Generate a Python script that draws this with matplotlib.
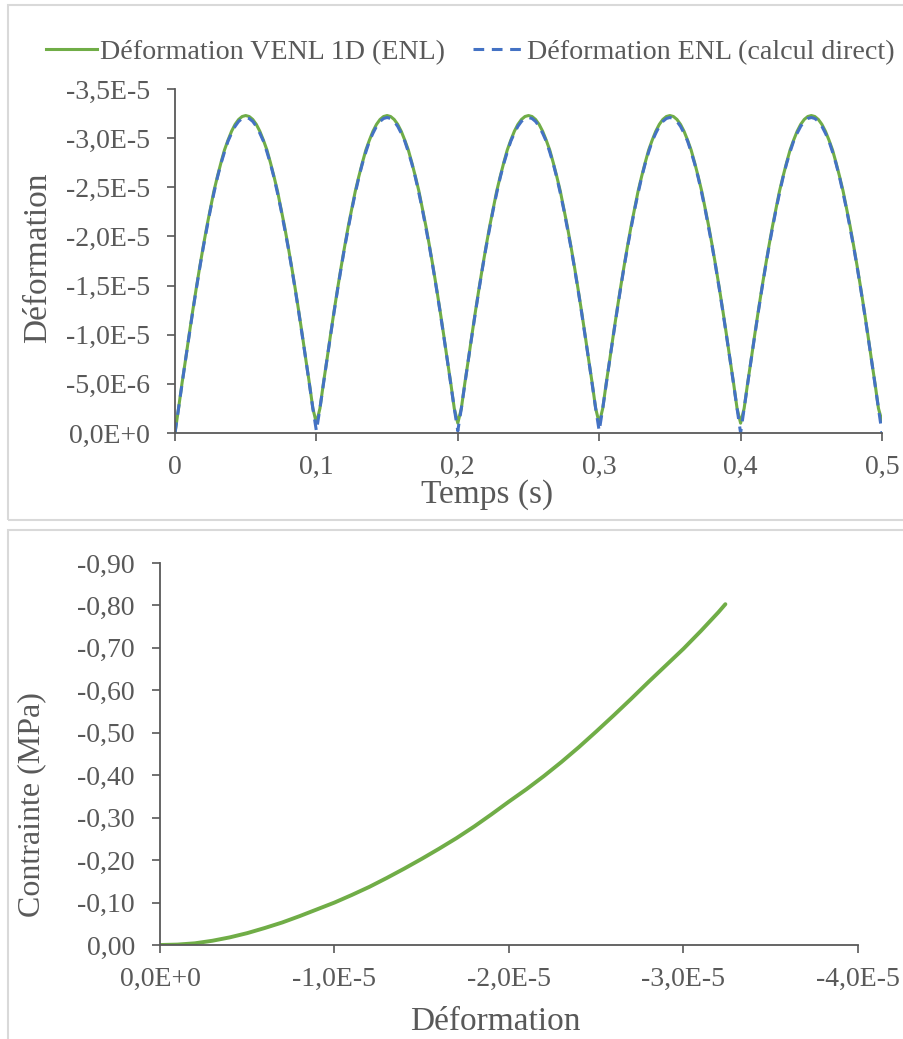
import matplotlib
matplotlib.use("Agg")
import matplotlib.pyplot as plt
from matplotlib.patches import Rectangle

plt.rcParams['font.family'] = ['Liberation Serif', 'DejaVu Serif']

# ---------------- data ----------------
# top panel: time (s)
temps = [
    0.0000, 0.0025, 0.0050, 0.0075, 0.0100, 0.0125, 0.0150, 0.0175, 0.0200, 0.0225,
    0.0250, 0.0275, 0.0300, 0.0325, 0.0350, 0.0375, 0.0400, 0.0425, 0.0450, 0.0475,
    0.0500, 0.0525, 0.0550, 0.0575, 0.0600, 0.0625, 0.0650, 0.0675, 0.0700, 0.0725,
    0.0750, 0.0775, 0.0800, 0.0825, 0.0850, 0.0875, 0.0900, 0.0925, 0.0950, 0.0975,
    0.1000, 0.1025, 0.1050, 0.1075, 0.1100, 0.1125, 0.1150, 0.1175, 0.1200, 0.1225,
    0.1250, 0.1275, 0.1300, 0.1325, 0.1350, 0.1375, 0.1400, 0.1425, 0.1450, 0.1475,
    0.1500, 0.1525, 0.1550, 0.1575, 0.1600, 0.1625, 0.1650, 0.1675, 0.1700, 0.1725,
    0.1750, 0.1775, 0.1800, 0.1825, 0.1850, 0.1875, 0.1900, 0.1925, 0.1950, 0.1975,
    0.2000, 0.2025, 0.2050, 0.2075, 0.2100, 0.2125, 0.2150, 0.2175, 0.2200, 0.2225,
    0.2250, 0.2275, 0.2300, 0.2325, 0.2350, 0.2375, 0.2400, 0.2425, 0.2450, 0.2475,
    0.2500, 0.2525, 0.2550, 0.2575, 0.2600, 0.2625, 0.2650, 0.2675, 0.2700, 0.2725,
    0.2750, 0.2775, 0.2800, 0.2825, 0.2850, 0.2875, 0.2900, 0.2925, 0.2950, 0.2975,
    0.3000, 0.3025, 0.3050, 0.3075, 0.3100, 0.3125, 0.3150, 0.3175, 0.3200, 0.3225,
    0.3250, 0.3275, 0.3300, 0.3325, 0.3350, 0.3375, 0.3400, 0.3425, 0.3450, 0.3475,
    0.3500, 0.3525, 0.3550, 0.3575, 0.3600, 0.3625, 0.3650, 0.3675, 0.3700, 0.3725,
    0.3750, 0.3775, 0.3800, 0.3825, 0.3850, 0.3875, 0.3900, 0.3925, 0.3950, 0.3975,
    0.4000, 0.4025, 0.4050, 0.4075, 0.4100, 0.4125, 0.4150, 0.4175, 0.4200, 0.4225,
    0.4250, 0.4275, 0.4300, 0.4325, 0.4350, 0.4375, 0.4400, 0.4425, 0.4450, 0.4475,
    0.4500, 0.4525, 0.4550, 0.4575, 0.4600, 0.4625, 0.4650, 0.4675, 0.4700, 0.4725,
    0.4750, 0.4775, 0.4800, 0.4825, 0.4850, 0.4875, 0.4900, 0.4925, 0.4950, 0.4975,
    0.5000]

# strain, VENL 1D (ENL), in units of 1e-5
def_venl_e5 = [
    0.00,
    -0.25, -0.51, -0.75, -1.00, -1.24, -1.47, -1.69, -1.90, -2.10, -2.28,
    -2.46, -2.61, -2.75, -2.88, -2.98, -3.07, -3.14, -3.19, -3.22, -3.23,
    -3.22, -3.19, -3.14, -3.07, -2.98, -2.88, -2.75, -2.61, -2.46, -2.28,
    -2.10, -1.90, -1.69, -1.47, -1.24, -1.00, -0.75, -0.51, -0.25, -0.10,
    -0.25, -0.51, -0.75, -1.00, -1.24, -1.47, -1.69, -1.90, -2.10, -2.28,
    -2.46, -2.61, -2.75, -2.88, -2.98, -3.07, -3.14, -3.19, -3.22, -3.23,
    -3.22, -3.19, -3.14, -3.07, -2.98, -2.88, -2.75, -2.61, -2.46, -2.28,
    -2.10, -1.90, -1.69, -1.47, -1.24, -1.00, -0.75, -0.51, -0.25, -0.10,
    -0.25, -0.51, -0.75, -1.00, -1.24, -1.47, -1.69, -1.90, -2.10, -2.28,
    -2.46, -2.61, -2.75, -2.88, -2.98, -3.07, -3.14, -3.19, -3.22, -3.23,
    -3.22, -3.19, -3.14, -3.07, -2.98, -2.88, -2.75, -2.61, -2.46, -2.28,
    -2.10, -1.90, -1.69, -1.47, -1.24, -1.00, -0.75, -0.51, -0.25, -0.10,
    -0.25, -0.51, -0.75, -1.00, -1.24, -1.47, -1.69, -1.90, -2.10, -2.28,
    -2.46, -2.61, -2.75, -2.88, -2.98, -3.07, -3.14, -3.19, -3.22, -3.23,
    -3.22, -3.19, -3.14, -3.07, -2.98, -2.88, -2.75, -2.61, -2.46, -2.28,
    -2.10, -1.90, -1.69, -1.47, -1.24, -1.00, -0.75, -0.51, -0.25, -0.10,
    -0.25, -0.51, -0.75, -1.00, -1.24, -1.47, -1.69, -1.90, -2.10, -2.28,
    -2.46, -2.61, -2.75, -2.88, -2.98, -3.07, -3.14, -3.19, -3.22, -3.23,
    -3.22, -3.19, -3.14, -3.07, -2.98, -2.88, -2.75, -2.61, -2.46, -2.28,
    -2.10, -1.90, -1.69, -1.47, -1.24, -1.00, -0.75, -0.51, -0.25, -0.12]

# strain, ENL (direct computation), in units of 1e-5
def_enl_e5 = [
    0.00,
    -0.25, -0.50, -0.75, -0.99, -1.23, -1.46, -1.68, -1.89, -2.08, -2.27,
    -2.44, -2.60, -2.74, -2.86, -2.97, -3.05, -3.12, -3.17, -3.20, -3.21,
    -3.20, -3.17, -3.12, -3.05, -2.97, -2.86, -2.74, -2.60, -2.44, -2.27,
    -2.08, -1.89, -1.68, -1.46, -1.23, -0.99, -0.75, -0.50, -0.25, -0.02,
    -0.25, -0.50, -0.75, -0.99, -1.23, -1.46, -1.68, -1.89, -2.08, -2.27,
    -2.44, -2.60, -2.74, -2.86, -2.97, -3.05, -3.12, -3.17, -3.20, -3.21,
    -3.20, -3.17, -3.12, -3.05, -2.97, -2.86, -2.74, -2.60, -2.44, -2.27,
    -2.08, -1.89, -1.68, -1.46, -1.23, -0.99, -0.75, -0.50, -0.25, -0.02,
    -0.25, -0.50, -0.75, -0.99, -1.23, -1.46, -1.68, -1.89, -2.08, -2.27,
    -2.44, -2.60, -2.74, -2.86, -2.97, -3.05, -3.12, -3.17, -3.20, -3.21,
    -3.20, -3.17, -3.12, -3.05, -2.97, -2.86, -2.74, -2.60, -2.44, -2.27,
    -2.08, -1.89, -1.68, -1.46, -1.23, -0.99, -0.75, -0.50, -0.25, -0.02,
    -0.25, -0.50, -0.75, -0.99, -1.23, -1.46, -1.68, -1.89, -2.08, -2.27,
    -2.44, -2.60, -2.74, -2.86, -2.97, -3.05, -3.12, -3.17, -3.20, -3.21,
    -3.20, -3.17, -3.12, -3.05, -2.97, -2.86, -2.74, -2.60, -2.44, -2.27,
    -2.08, -1.89, -1.68, -1.46, -1.23, -0.99, -0.75, -0.50, -0.25, 0.00,
    -0.25, -0.50, -0.75, -0.99, -1.23, -1.46, -1.68, -1.89, -2.08, -2.27,
    -2.44, -2.60, -2.74, -2.86, -2.97, -3.05, -3.12, -3.17, -3.20, -3.21,
    -3.20, -3.17, -3.12, -3.05, -2.97, -2.86, -2.74, -2.60, -2.44, -2.27,
    -2.08, -1.89, -1.68, -1.46, -1.23, -0.99, -0.75, -0.50, -0.25, 0.00]

# bottom panel: strain (x1e-5) vs stress (MPa)
deformation_e5 = [0.0, -0.1, -0.2, -0.3, -0.4, -0.5, -0.6, -0.7, -0.8, -0.9,
                  -1.0, -1.1, -1.2, -1.3, -1.4, -1.5, -1.6, -1.7, -1.8, -1.9,
                  -2.0, -2.1, -2.2, -2.3, -2.4, -2.5, -2.6, -2.7, -2.8, -2.9,
                  -3.0, -3.1, -3.2, -3.24]
contrainte = [0.000, -0.001, -0.004, -0.010, -0.018, -0.028, -0.040, -0.053, -0.068, -0.084,
              -0.100, -0.118, -0.137, -0.158, -0.180, -0.203, -0.227, -0.252, -0.279, -0.308,
              -0.338, -0.367, -0.398, -0.431, -0.466, -0.503, -0.541, -0.580, -0.620, -0.659,
              -0.698, -0.740, -0.784, -0.803]

# tick labels
top_xticks = [0, 0.1, 0.2, 0.3, 0.4, 0.5]
top_xlabels = ['0', '0,1', '0,2', '0,3', '0,4', '0,5']
top_yticks = [0, -0.5e-5, -1.0e-5, -1.5e-5, -2.0e-5, -2.5e-5, -3.0e-5, -3.5e-5]
top_ylabels = ['0,0E+0', '-5,0E-6', '-1,0E-5', '-1,5E-5', '-2,0E-5', '-2,5E-5', '-3,0E-5', '-3,5E-5']
bot_xticks = [0, -1e-5, -2e-5, -3e-5, -4e-5]
bot_xlabels = ['0,0E+0', '-1,0E-5', '-2,0E-5', '-3,0E-5', '-4,0E-5']
bot_yticks = [0, -0.1, -0.2, -0.3, -0.4, -0.5, -0.6, -0.7, -0.8, -0.9]
bot_ylabels = ['0,00', '-0,10', '-0,20', '-0,30', '-0,40', '-0,50', '-0,60', '-0,70', '-0,80', '-0,90']

# ---------------- figure ----------------
W, H = 904, 1039
fig = plt.figure(figsize=(W / 100, H / 100), dpi=100)
TXT = '#595959'
AX = '#595959'
GREEN = '#70AD47'
BLUE = '#4472C4'


def fx(px):
    return px / W


def fy(py):
    return 1 - py / H


# panel borders
fig.patches.append(Rectangle((fx(8), fy(520)), 1.2, fy(5) - fy(520), transform=fig.transFigure,
                             fill=False, edgecolor='#d9d9d9', lw=1.5))
fig.patches.append(Rectangle((fx(8), fy(1060)), 1.2, fy(530) - fy(1060), transform=fig.transFigure,
                             fill=False, edgecolor='#d9d9d9', lw=1.5))


def style(ax):
    for s in ['top', 'right']:
        ax.spines[s].set_visible(False)
    for s in ['left', 'bottom']:
        ax.spines[s].set_color(AX)
        ax.spines[s].set_linewidth(1.3)
    ax.tick_params(axis='both', direction='out', length=6, width=1.2, color=AX,
                   labelcolor=TXT, labelsize=20)
    ax.tick_params(axis='y', pad=12)
    ax.tick_params(axis='x', pad=10)


sc = 1e-5

# top axes
ax1 = fig.add_axes([fx(175), fy(433), fx(882) - fx(175), fy(89) - fy(433)])
l1, = ax1.plot(temps, [v * sc for v in def_venl_e5], color=GREEN, lw=2.2,
               label='Déformation VENL 1D (ENL)')
l2, = ax1.plot(temps, [v * sc for v in def_enl_e5], color=BLUE, lw=2.2, ls=(0, (3.5, 2.5)),
               label='Déformation ENL (calcul direct)')
ax1.set_xlim(0, 0.5)
ax1.set_ylim(0, -3.5e-5)
ax1.set_xticks(top_xticks)
ax1.set_xticklabels(top_xlabels)
ax1.set_yticks(top_yticks)
ax1.set_yticklabels(top_ylabels)
style(ax1)
fig.text(fx(38), fy(258), 'Déformation', rotation=90, ha='center', va='center',
         fontsize=24, color=TXT)
fig.text(fx(487), fy(495), 'Temps (s)', ha='center', va='center', fontsize=24, color=TXT)

fig.legend(handles=[l1, l2], loc='center', bbox_to_anchor=(fx(470), fy(52)), ncol=2,
           frameon=False, fontsize=20.2, handlelength=1.85, handletextpad=0.08,
           columnspacing=1.0, labelcolor=TXT, borderpad=0.2, borderaxespad=0.0)

# bottom axes
ax2 = fig.add_axes([fx(160), fy(945), fx(858) - fx(160), fy(563) - fy(945)])
ax2.plot([v * sc for v in deformation_e5], contrainte, color=GREEN, lw=2.8,
         solid_capstyle='round')
ax2.set_xlim(0, -4e-5)
ax2.set_ylim(0, -0.9)
ax2.set_xticks(bot_xticks)
ax2.set_xticklabels(bot_xlabels)
ax2.set_yticks(bot_yticks)
ax2.set_yticklabels(bot_ylabels)
style(ax2)
fig.text(fx(32), fy(805), 'Contrainte (MPa)', rotation=90, ha='center', va='center',
         fontsize=23, color=TXT)
fig.text(fx(495), fy(1022), 'Déformation', ha='center', va='center', fontsize=24, color=TXT)

fig.savefig('out.png', dpi=100)
